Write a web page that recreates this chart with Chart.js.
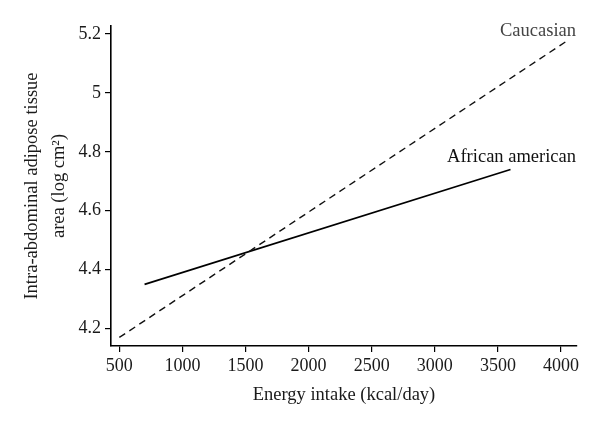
<!DOCTYPE html>
<html>
<head>
<meta charset="utf-8">
<script src="https://cdn.jsdelivr.net/npm/chart.js@4"></script>
<style>
  html, body { margin: 0; padding: 0; background: #fff; }
  #wrap { width: 600px; height: 425px; position: relative; }
</style>
</head>
<body>
<div id="wrap"><canvas id="chart"></canvas></div>
<script>
// ─── Data ─────────────────────────────────────────────────────────────────────
const xTicks = [500, 1000, 1500, 2000, 2500, 3000, 3500, 4000];
const yTicks = [4.2, 4.4, 4.6, 4.8, 5, 5.2];

const caucasianX = [500, 4060];
const caucasianY = [4.17, 5.18];
const africanX = [700, 3600];
const africanY = [4.35, 4.74];

const FONT = "'Liberation Serif', 'Times New Roman', serif";

const toPoints = (xs, ys) => xs.map((x, i) => ({ x, y: ys[i] }));

// line labels drawn at the right end of the plot
const lineLabels = {
  id: 'lineLabels',
  afterDatasetsDraw(chart) {
    const { ctx, chartArea, scales } = chart;
    ctx.save();
    ctx.font = `18.5px ${FONT}`;
    ctx.textAlign = 'right';
    ctx.textBaseline = 'middle';
    ctx.fillStyle = '#444';
    ctx.fillText('Caucasian', chartArea.right - 1, scales.y.getPixelForValue(5.211));
    ctx.fillStyle = '#111';
    ctx.fillText('African american', chartArea.right - 1, scales.y.getPixelForValue(4.783));
    ctx.restore();
  },
};

new Chart(document.getElementById('chart').getContext('2d'), {
  type: 'line',
  data: {
    datasets: [
      {
        label: 'Caucasian',
        data: toPoints(caucasianX, caucasianY),
        borderColor: '#111',
        borderWidth: 1.4,
        borderDash: [7, 5],
        pointRadius: 0,
        fill: false,
      },
      {
        label: 'African american',
        data: toPoints(africanX, africanY),
        borderColor: '#000',
        borderWidth: 1.7,
        pointRadius: 0,
        fill: false,
      },
    ],
  },
  options: {
    responsive: true, maintainAspectRatio: false,
    animation: false,
    layout: { padding: { top: 26, right: 23, left: 0, bottom: 0 } },
    plugins: { legend: { display: false }, tooltip: { enabled: false } },
    scales: {
      x: {
        type: 'linear', min: 434, max: 4127,
        afterBuildTicks: s => { s.ticks = xTicks.map(v => ({ value: v })); },
        afterFit: s => { s.height = 79; },
        grid: { display: true, drawOnChartArea: false, drawTicks: true, tickLength: 6, color: '#000', lineWidth: 1.2 },
        border: { display: true, color: '#000', width: 1.6 },
        ticks: { color: '#1a1a1a', padding: 3, maxRotation: 0, autoSkip: false, font: { family: FONT, size: 18 }, callback: v => String(v) },
        title: { display: true, text: 'Energy intake (kcal/day)', color: '#1a1a1a', font: { family: FONT, size: 18.5 }, padding: { top: 0, bottom: 19 } },
      },
      y: {
        type: 'linear', min: 4.141, max: 5.227,
        afterBuildTicks: s => { s.ticks = yTicks.map(v => ({ value: v })); },
        afterFit: s => { s.width = 111; },
        grid: { display: true, drawOnChartArea: false, drawTicks: true, tickLength: 6, color: '#000', lineWidth: 1.2 },
        border: { display: true, color: '#000', width: 1.6 },
        ticks: { color: '#1a1a1a', padding: 4, autoSkip: false, font: { family: FONT, size: 18 }, callback: v => String(v) },
        title: {
          display: true,
          text: ['Intra-abdominal adipose tissue', 'area (log cm\u00B2)'],
          color: '#1a1a1a',
          font: { family: FONT, size: 18.5, lineHeight: 1.5 },
          padding: { top: 18, bottom: 0 },
        },
      },
    },
  },
  plugins: [lineLabels],
});
</script>
</body>
</html>
